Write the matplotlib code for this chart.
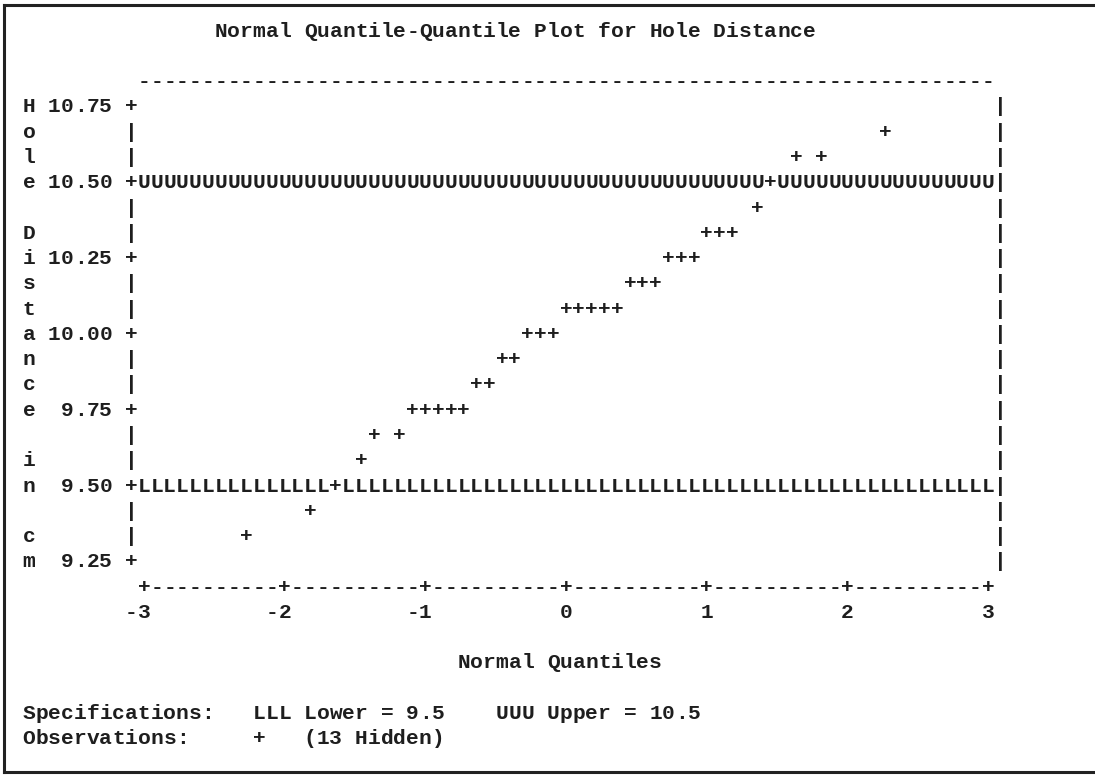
import matplotlib
matplotlib.use("Agg")
import matplotlib.pyplot as plt
from matplotlib.lines import Line2D

# chart text / data
title = "Normal Quantile-Quantile Plot for Hole Distance"
y_label = "Hole Distance in cm"
x_label = "Normal Quantiles"
x_ticks = [-3, -2, -1, 0, 1, 2, 3]
y_ticks = [10.75, 10.50, 10.25, 10.00, 9.75, 9.50, 9.25]
lower_spec = 9.5
upper_spec = 10.5
n_hidden = 13

# visible observations: normal quantile vs hole distance (cm)
quantiles = [2.27, 1.64, 1.82, 1.45, 1.36,
             1.00, 1.09, 1.18, 0.73, 0.82, 0.91,
             0.45, 0.55, 0.64, 0.00, 0.09, 0.18, 0.27, 0.36,
             -0.27, -0.18, -0.09, -0.45, -0.36, -0.64, -0.55,
             -1.09, -1.00, -0.91, -0.82, -0.73,
             -1.36, -1.18, -1.45, -1.64, -1.82, -2.27]
distances = [10.667, 10.583, 10.583, 10.500, 10.417,
             10.333, 10.333, 10.333, 10.250, 10.250, 10.250,
             10.167, 10.167, 10.167, 10.083, 10.083, 10.083, 10.083, 10.083,
             10.000, 10.000, 10.000, 9.917, 9.917, 9.833, 9.833,
             9.750, 9.750, 9.750, 9.750, 9.750,
             9.667, 9.667, 9.583, 9.500, 9.417, 9.333]

# line printer grid: 11 columns per quantile unit, 12 rows per cm
xmin, xmax = x_ticks[0], x_ticks[-1]
ymax, ymin = max(y_ticks), min(y_ticks)
cpu, rpu = 11, 12
col0 = 9                                   # column of x = -3
col_end = col0 + int((xmax - xmin) * cpu)  # column of x = 3
nrows = int(round((ymax - ymin) * rpu))    # 18


def to_col(q):
    return col0 + int(round((q - xmin) * cpu))


def to_row(v):
    return int(round((ymax - v) * rpu))


grid = {}


def put(col, row, s):
    for i, ch in enumerate(s):
        if ch != ' ':
            grid[(col + i, row)] = ch


# title and frame
put(15, -3, title)
put(col0, -1, '-' * (col_end - col0 + 1))
tick_rows = {to_row(t): t for t in y_ticks}
for r in range(nrows + 1):
    put(0, r, y_label[r])
    if r in tick_rows:
        put(2, r, f"{tick_rows[r]:5.2f}")
        put(8, r, '+')
    else:
        put(8, r, '|')
    put(col_end + 1, r, '|')

# horizontal axis
for c in range(col0, col_end + 1):
    put(c, nrows + 1, '-')
for t in x_ticks:
    c = to_col(t)
    put(c, nrows + 1, '+')
    lab = str(t)
    put(c - len(lab) + 1, nrows + 2, lab)
put(34, nrows + 4, x_label)

# specification limits
for c in range(col0, col_end + 1):
    put(c, to_row(upper_spec), 'U')
    put(c, to_row(lower_spec), 'L')

# observations
for q, v in zip(quantiles, distances):
    put(to_col(q), to_row(v), '+')

# legend lines
put(0, nrows + 6, f"Specifications:   LLL Lower = {lower_spec:g}    UUU Upper = {upper_spec:g}")
put(0, nrows + 7, f"Observations:     +   ({n_hidden} Hidden)")

W, H = 1095, 775
fig = plt.figure(figsize=(W / 100, H / 100), dpi=100)
fig.patch.set_facecolor('white')

# axes so that data coords line up with the character grid
px_left, px_right = 144.0, 988.0
py_top = 107.0
row_h = 25.27
py_bot = py_top + nrows * row_h
ax = fig.add_axes([px_left / W, 1 - py_bot / H, (px_right - px_left) / W, (py_bot - py_top) / H])
ax.set_xlim(xmin, xmax)
ax.set_ylim(ymin, ymax)
ax.axis('off')

font = dict(family='Liberation Mono', weight='bold', size=15.3, color='#1e1e1e')
for (c, r), ch in grid.items():
    x = xmin + (c - col0) / cpu
    y = ymax - r / rpu
    ax.text(x, y, ch, ha='center', va='center', clip_on=False, **font)

# outer box (left, top, bottom)
lw = 2.2
fig.add_artist(Line2D([4 / W, 4 / W], [1 - 5 / H, 1 - 772 / H], color='#222222', lw=lw))
fig.add_artist(Line2D([4 / W, 1], [1 - 5 / H, 1 - 5 / H], color='#222222', lw=lw))
fig.add_artist(Line2D([4 / W, 1], [1 - 772 / H, 1 - 772 / H], color='#222222', lw=lw))

fig.savefig('out.png', dpi=100)
